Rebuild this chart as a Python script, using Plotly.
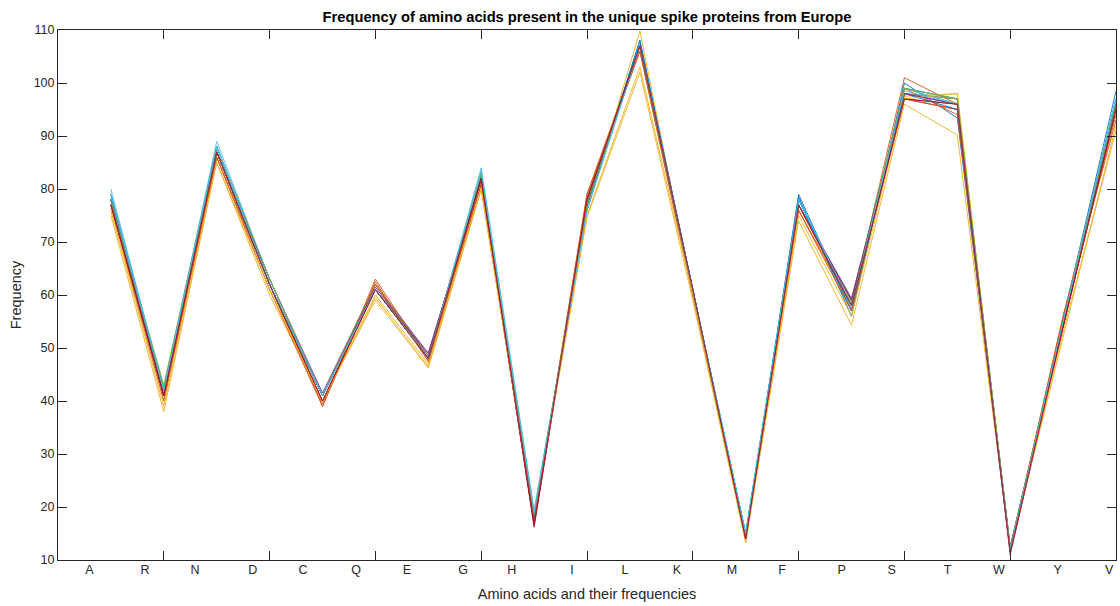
import plotly.graph_objects as go

# Amino acids in the order they are plotted (one point per residue, x = 1..20)
amino_acids = ["A", "R", "N", "D", "C", "Q", "E", "G", "H", "I",
               "L", "K", "M", "F", "P", "S", "T", "W", "Y", "V"]

# Where each residue name sits along the x axis
label_pos = [0.592, 1.645, 2.590, 3.681, 4.631, 5.633, 6.597, 7.656, 8.58, 9.716,
             10.718, 11.701, 12.741, 13.686, 14.815, 15.76, 16.818, 17.788, 18.898, 19.873]

# Residue counts for each unique spike protein sequence
seq01 = [79, 42, 88, 63, 41, 61, 48, 82, 18, 76, 108, 61, 14, 79, 57, 99, 97, 12, 55, 98.5]
seq02 = [78, 41, 87, 62, 39, 63, 48, 81, 17, 79, 107, 61, 14, 77, 58, 101, 96, 12, 56, 96]
seq03 = [76, 40, 86, 61, 40, 60, 47, 80, 18, 76, 109.8, 60, 14, 76, 57, 97.5, 98, 12, 54, 95]
seq04 = [78, 42, 87, 63, 41.5, 62, 49, 82, 18, 77, 107, 61, 14, 77, 59.4, 98, 97, 12, 54, 96]
seq05 = [78, 43, 88, 62, 41, 62, 48.5, 83, 18, 77, 107, 61, 15, 77, 59, 99, 96, 12.5, 55, 97]
seq06 = [80, 42, 89, 63, 41, 61, 48, 84, 19.4, 76, 108, 61, 15, 78, 58, 99, 97, 12, 55, 97]
seq07 = [78, 41, 87, 62, 40, 61, 48, 82, 16.2, 78, 107, 61, 14, 77, 58, 97, 95, 11.5, 54, 96]
seq08 = [79, 42, 88, 62, 41, 61, 48, 83, 18, 77, 108, 61, 15, 78.5, 56, 100, 93.4, 12, 55, 97]
seq09 = [77, 41, 86, 62, 39.5, 62.5, 47.5, 81, 17, 78.5, 106, 60, 14, 76, 58, 97, 95, 12, 55, 94]
seq10 = [75, 38, 85, 60, 40, 59, 46.2, 80, 18, 74.7, 102, 59, 13.5, 74, 54.3, 96, 90.2, 12, 52, 92]
seq11 = [77, 42, 87, 62, 41, 61, 49, 82, 18, 77, 107, 61, 14, 77, 59, 98, 96, 12.5, 55, 96]
seq12 = [78, 42.5, 88, 63, 41, 62, 48, 82, 18, 77, 107, 61, 14.5, 77, 58.5, 98, 97, 12, 55, 97]
seq13 = [79, 42, 88, 62, 41, 61, 48, 83, 19, 76, 107, 61, 14.5, 78, 57.5, 99, 96, 12, 55, 97]
seq14 = [77, 41, 87, 62, 40, 61, 48, 82, 16.5, 78, 107, 61, 14, 77, 58, 97, 96, 11, 54, 95]
seq15 = [78, 42, 87, 62, 41, 61, 48, 82, 18, 77, 107, 61, 14, 78, 57, 98, 95, 12, 55, 96]
seq16 = [77, 40, 86, 61, 39, 62, 47.5, 81, 17.5, 79, 106, 60, 14, 76, 57, 99, 94, 12, 56, 93]
seq17 = [76, 39, 85, 61, 40, 59.5, 46.5, 80, 18, 75, 103, 60, 13.2, 75, 56, 97, 98, 12, 53, 91]
seq18 = [78, 41, 87, 62, 41, 61.5, 48.5, 82, 18, 77, 107, 61, 14, 77, 59, 98, 96, 12, 55, 96]
seq19 = [78, 42, 87, 62, 41, 61, 48, 83, 18.5, 77, 107, 61, 14.5, 77, 58, 99, 97, 12.5, 55, 96]
seq20 = [79, 42, 88, 62, 41, 61, 48, 83.5, 19, 76, 107, 61, 15, 78, 58, 98.5, 96, 12, 55, 97]
seq21 = [77, 41, 87, 62, 40, 61, 48, 82, 16.8, 78, 107, 61, 14, 77, 58, 97, 96, 11.5, 54, 95]

sequences = [seq01, seq02, seq03, seq04, seq05, seq06, seq07, seq08, seq09, seq10, seq11,
             seq12, seq13, seq14, seq15, seq16, seq17, seq18, seq19, seq20, seq21]

# MATLAB default line colour order
palette = ["#0072BD", "#D95319", "#EDB120", "#7E2F8E", "#77AC30", "#4DBEEE", "#A2142F"]

positions = list(range(1, len(amino_acids) + 1))

fig = go.Figure()
for i, counts in enumerate(sequences):
    fig.add_trace(go.Scatter(
        x=positions, y=counts, mode="lines",
        line=dict(color=palette[i % len(palette)], width=0.9),
        showlegend=False, hoverinfo="skip",
    ))

# empty trace so the label axis is drawn
fig.add_trace(go.Scatter(x=[None], y=[None], xaxis="x2", yaxis="y",
                         showlegend=False, hoverinfo="skip"))

axis_col = "#262626"
font_family = "Liberation Sans, Arial, sans-serif"
tick_font = dict(family=font_family, size=12.5, color=axis_col)
label_font = dict(family=font_family, size=14.5, color=axis_col)

fig.update_layout(
    width=1120, height=606,
    margin=dict(l=58, r=4, t=30, b=46),
    paper_bgcolor="white", plot_bgcolor="white",
    title=dict(
        text="<b>Frequency of amino acids present in the unique spike proteins from Europe</b>",
        x=0.5, xanchor="center", xref="paper",
        y=1 - 17 / 606, yanchor="middle", yref="container",
        font=dict(family=font_family, size=14.7, color="black"),
    ),
    xaxis=dict(
        range=[0, 20], tickvals=list(range(0, 21, 2)), showticklabels=False,
        ticks="inside", ticklen=9, tickwidth=1, tickcolor=axis_col,
        showline=True, linecolor=axis_col, linewidth=1, mirror="ticks",
        showgrid=False, zeroline=False,
    ),
    xaxis2=dict(
        range=[0, 20], overlaying="x", anchor="y", side="bottom",
        tickvals=label_pos, ticktext=amino_acids, ticks="",
        showline=False, showgrid=False, zeroline=False,
        tickfont=tick_font,
        title=dict(text="Amino acids and their frequencies", standoff=13, font=label_font),
    ),
    yaxis=dict(
        range=[10, 110], tickvals=list(range(10, 111, 10)),
        ticks="inside", ticklen=9, tickwidth=1, tickcolor=axis_col,
        showline=True, linecolor=axis_col, linewidth=1, mirror="ticks",
        showgrid=False, zeroline=False, tickfont=tick_font,
        title=dict(text="Frequency", standoff=8, font=label_font),
    ),
)

fig.write_html("out.html")
